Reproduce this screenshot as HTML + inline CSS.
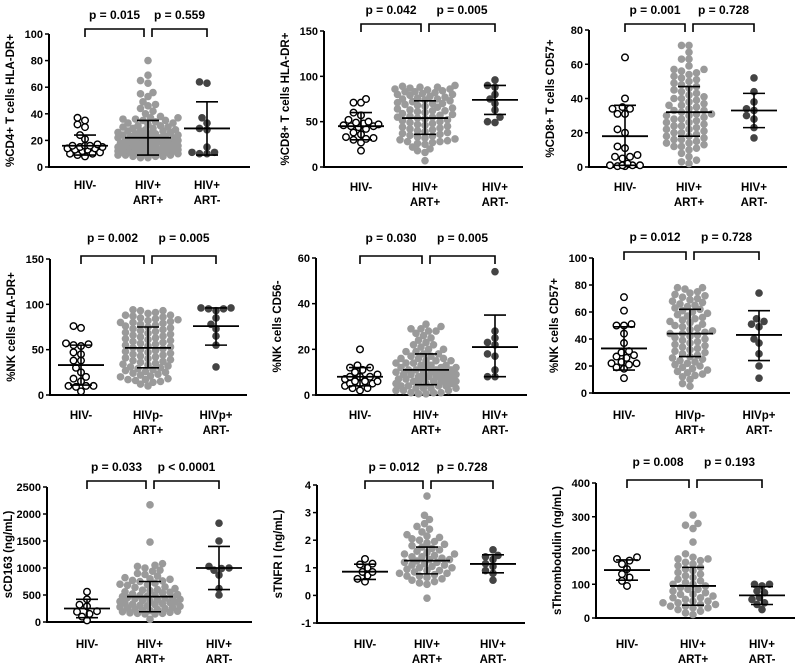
<!DOCTYPE html>
<html><head><meta charset="utf-8"><style>
html,body{margin:0;padding:0;background:#fff;}
svg{display:block;font-family:"Liberation Sans",Arial,sans-serif;}
</style></head><body>
<svg id="fig" width="795" height="664" viewBox="0 0 795 664"></svg>
<script>
// ---- data ----
const p1Neg=[37,35,32,30,24,21,17,16,16,16,15,15,14,14,13,13,12,11,10,10,9,8];
const p1Art=[80,69,65,63,56,55,53,49,47,46,44,42,40,38,37,37,36,36,35,35,34,33,33,32,31,31,30,30,29,29,28,28,27,27,27,26,26,25,25,25,24,24,24,23,23,23,22,22,22,21,21,21,20,20,20,20,19,19,19,18,18,18,18,17,17,17,16,16,16,16,15,15,15,15,14,14,14,14,13,13,13,13,12,12,12,12,11,11,11,11,10,10,10,10,9,9,9,8,8,8,7,7];
const p1Nart=[64,63,37,33,29,28,15,11,10,10,11];
const p2Neg=[75,71,71,60,57,52,50,49,48,47,46,45,45,44,42,38,36,33,32,31,30,27,18];
const p2Art=[90,89,88,88,87,86,86,85,84,83,83,82,81,80,80,79,78,77,76,75,75,74,73,72,71,70,70,69,68,67,66,65,64,63,62,62,61,60,59,58,57,56,55,55,54,53,52,51,50,49,48,47,46,45,44,43,42,41,40,39,38,37,36,35,34,33,32,31,30,29,28,28,27,26,25,22,20,18,16,7];
const p2Nart=[96,90,88,80,75,70,63,55,49,50];
const p3Neg=[64,40,35,34,34,31,31,22,20,12,11,7,6,6,5,2,1,1,1,1,0.5,0.5];
const p3Art=[71,71,67,63,63,59,57,57,56,55,54,53,52,51,50,49,48,47,46,45,44,43,42,41,40,40,39,38,37,36,36,35,34,33,33,32,31,31,30,30,29,28,28,27,26,26,25,24,24,23,22,22,21,20,20,19,18,18,17,16,16,15,14,14,13,12,12,11,10,8,6,4,3,2];
const p3Nart=[52,44,38,34,33,30,28,23,17];
const p4Neg=[76,74,57,56,55,54,47,45,38,38,30,25,20,18,15,10,10,10,9,4];
const p4Art=[94,93,93,91,90,88,88,87,86,85,84,83,82,81,80,80,79,78,77,76,75,74,73,72,71,70,69,68,67,66,65,64,63,62,61,60,59,58,57,56,55,54,53,52,51,50,49,48,47,46,45,44,43,42,41,40,39,38,37,36,35,34,33,32,31,30,29,28,27,26,25,24,23,22,21,20,18,17,17,16,15,14,12,10];
const p4Nart=[96,96,95,95,93,85,78,73,65,55,31];
const p5Neg=[20,13,12,12,11,10,9,8,8,8,7,6,6,6,5,5,5,4,3,3,2];
const p5Art=[31,30,29,29,28,28,27,26,25,24,23,22,22,21,20,20,19,19,18,18,17,17,16,16,16,15,15,15,14,14,14,13,13,13,12,12,12,12,11,11,11,11,10,10,10,10,9,9,9,9,8,8,8,8,7,7,7,7,6,6,6,6,5,5,5,5,4,4,4,4,3,3,3,3,2,2,2,1,1,1,0.5,0.5];
const p5Nart=[54,28,25,23,22,18,17,11,8,8];
const p6Neg=[71,61,51,50,50,44,37,31,30,28,27,26,23,22,22,21,19,18,11];
const p6Art=[78,78,77,75,74,73,72,71,70,69,68,67,66,65,64,63,62,61,60,59,58,57,56,55,54,53,52,51,50,49,48,47,46,45,44,44,43,42,41,40,39,38,37,36,35,34,33,32,31,30,29,28,27,26,25,24,23,22,21,20,19,18,17,16,15,14,13,12,10,7,5];
const p6Nart=[74,55,53,51,49,40,37,29,20,11];
const p7Neg=[560,420,320,290,200,190,150,100,30];
const p7Art=[2170,1480,1080,1050,1030,1000,960,940,900,880,850,820,800,790,770,760,750,720,700,690,680,650,640,620,600,590,580,560,550,540,520,510,500,490,480,470,460,450,440,430,420,410,400,390,380,370,360,350,340,330,320,310,300,290,280,270,260,250,240,230,220,210,200,190,180,170,160,160,150,150,50];
const p7Nart=[1830,1500,1030,1000,990,960,870,620,500];
const p8Neg=[1.32,1.15,1.12,1.0,0.85,0.85,0.72,0.6,0.5];
const p8Art=[3.6,2.9,2.75,2.6,2.5,2.4,2.3,2.2,2.15,2.1,2.05,2.0,1.95,1.9,1.85,1.8,1.75,1.7,1.65,1.6,1.55,1.5,1.5,1.45,1.4,1.4,1.35,1.3,1.3,1.25,1.2,1.2,1.15,1.1,1.1,1.05,1.0,1.0,0.95,0.9,0.9,0.85,0.8,0.8,0.75,0.7,0.7,0.65,0.6,0.55,0.5,0.45,0.4,-0.1];
const p8Nart=[1.65,1.45,1.4,1.3,1.15,1.05,0.9,0.8,0.55];
const p9Neg=[180,175,170,160,145,130,120,110,95];
const p9Art=[305,280,275,265,225,190,180,175,175,170,165,160,155,150,145,140,135,130,125,120,115,110,105,100,100,95,90,85,85,80,75,70,70,65,60,60,55,50,50,45,45,40,40,35,35,30,30,25,20,15,10];
const p9Nart=[100,100,95,80,75,60,55,45,40,25];
// mean / lower / upper SD bars per group [neg, art+, art-]
const meanVals=[[16,22,29],[45,54,74],[18,32,33],[33,52,76],[8,11,21],[33,44,43],[250,470,1000],[0.86,1.26,1.14],[142,95,67]];
const sdLow=[[9,9,9],[30,36,58],[1,18,23],[11,30,55],[4,4.5,8],[17,27,24],[80,190,600],[0.58,0.78,0.82],[112,38,40]];
const sdHigh=[[24,35,49],[60,73,90],[36,47,43],[55,75,96],[12,18,35],[49,62,61],[420,750,1400],[1.13,1.75,1.47],[172,150,93]];
const pLabels=[["p = 0.015","p = 0.559"],["p = 0.042","p = 0.005"],["p = 0.001","p = 0.728"],["p = 0.002","p = 0.005"],["p = 0.030","p = 0.005"],["p = 0.012","p = 0.728"],["p = 0.033","p < 0.0001"],["p = 0.012","p = 0.728"],["p = 0.008","p = 0.193"]];
const yTitles=["%CD4+ T cells  HLA-DR+","%CD8+ T cells HLA-DR+","%CD8+ T cells CD57+","%NK cells  HLA-DR+","%NK cells CD56-","%NK cells CD57+","sCD163 (ng/mL)","sTNFR I (ng/mL)","sThrombodulin (ng/mL)"];
const yTicks=[[0,20,40,60,80,100],[0,50,100,150],[0,20,40,60,80],[0,50,100,150],[0,20,40,60],[0,20,40,60,80,100],[0,500,1000,1500,2000,2500],[-1,0,1,2,3,4],[0,100,200,300,400]];
const catA=[["HIV-"],["HIV+","ART+"],["HIV+","ART-"]];
const catB=[["HIV-"],["HIVp-","ART+"],["HIVp+","ART-"]];
const cats=[catA,catA,catA,catB,catA,catB,catA,catA,catA];
const groups=[[p1Neg,p1Art,p1Nart],[p2Neg,p2Art,p2Nart],[p3Neg,p3Art,p3Nart],[p4Neg,p4Art,p4Nart],[p5Neg,p5Art,p5Nart],[p6Neg,p6Art,p6Nart],[p7Neg,p7Art,p7Nart],[p8Neg,p8Art,p8Nart],[p9Neg,p9Art,p9Nart]];
// ---- layout (pixels) ----
const L=[
 {ax:49,top:34,bot:167,end:250,gx:[85,148,207],pY:19,brY:29,cY:189},
 {ax:324,top:31,bot:167,end:523,gx:[361,425,495],pY:14,brY:24,cY:191},
 {ax:589,top:30,bot:167,end:787,gx:[625,689,754],pY:14,brY:24,cY:191},
 {ax:50,top:259,bot:395,end:247,gx:[81,148,216],pY:242,brY:256,cY:419},
 {ax:316,top:258,bot:395,end:527,gx:[360,426,495],pY:242,brY:256,cY:419},
 {ax:593,top:258,bot:393,end:790,gx:[624,690,759],pY:241,brY:252,cY:419},
 {ax:47,top:487,bot:622,end:252,gx:[87,150,219],pY:471,brY:481,cY:648},
 {ax:317,top:485,bot:623,end:525,gx:[365,427,493],pY:471,brY:481,cY:648},
 {ax:596,top:483,bot:618,end:795,gx:[627,693,762],pY:466,brY:480,cY:648}
];
const NS="http://www.w3.org/2000/svg";
const svg=document.getElementById('fig');
function mk(tag,attrs,parent){const e=document.createElementNS(NS,tag);for(const k in attrs)e.setAttribute(k,attrs[k]);(parent||svg).appendChild(e);return e;}
const R=3.8;
function swarm(vals,cx,yf,maxHalf){
  const sorted=vals.slice().sort((a,b)=>a-b);const placed=[];
  const md=2*R*0.8;
  for(const v of sorted){const y=yf(v);let best=null,bestD=-1;
    for(let k=0;;k++){const off=(k%2===0?1:-1)*Math.ceil(k/2)*2.5;
      if(Math.abs(off)>maxHalf)break;
      const x=cx+off;
      let d=Infinity;placed.forEach(p=>{const dd=Math.hypot(p.x-x,p.y-y);if(dd<d)d=dd;});
      if(d>=md){best=x;bestD=d;break;}
      if(d>bestD){bestD=d;best=x;}
    }
    placed.push({x:best,y});}
  return placed;
}
L.forEach((g,i)=>{
  const pg=mk('g',{});
  
  
  const ticks=yTicks[i];const mn=ticks[0],mx=ticks[ticks.length-1];
  const yf=v=>g.bot-(v-mn)/(mx-mn)*(g.bot-g.top);
  const ya=mk('line',{x1:g.ax,y1:g.top,x2:g.ax,y2:g.bot,stroke:'#000','stroke-width':2},pg);
  
  
  const xa=mk('line',{x1:g.ax-1,y1:g.bot,x2:g.end,y2:g.bot,stroke:'#000','stroke-width':2},pg);
  
  
  ticks.forEach(t=>{const y=yf(t);
    mk('line',{x1:g.ax-4,y1:y,x2:g.ax,y2:y,stroke:'#000','stroke-width':1.5},pg);
    const tl=mk('text',{x:g.ax-6,y:y+4,'text-anchor':'end','font-size':11,'font-weight':'bold'},pg);
    tl.textContent=t;
    
    
  });
  const cy=(g.top+g.bot)/2;
  const tt=mk('text',{x:0,y:0,transform:`translate(${g.ax-35},${cy}) rotate(-90)`,'text-anchor':'middle','font-size':11.5,'font-weight':'bold'},pg);
  tt.textContent=yTitles[i];
  
  
  const fills=['#fff','#9a9a9a','#444'];
  const halfW=[18,32,18];
  groups[i].forEach((vals,j)=>{
    swarm(vals,g.gx[j],yf,halfW[j]).forEach(p=>{
      const c=mk('circle',{cx:p.x,cy:p.y,r:j===0?3.3:R,fill:fills[j],stroke:j===0?'#000':'none','stroke-width':1.4},pg);
      
      
    });
  });
  [0,1,2].forEach(j=>{const x=g.gx[j];
    const m=mk('line',{x1:x-23,y1:yf(meanVals[i][j]),x2:x+23,y2:yf(meanVals[i][j]),stroke:'#000','stroke-width':1.8},pg);
    
    
    const s=mk('path',{d:`M${x},${yf(sdLow[i][j])}V${yf(sdHigh[i][j])}M${x-11},${yf(sdLow[i][j])}H${x+11}M${x-11},${yf(sdHigh[i][j])}H${x+11}`,stroke:'#000','stroke-width':1.6,fill:'none'},pg);
    
    
  });
  [[g.gx[0],g.gx[1]-4],[g.gx[1]+4,g.gx[2]]].forEach((b,k)=>{
    const br=mk('path',{d:`M${b[0]},${g.brY+8}V${g.brY}H${b[1]}V${g.brY+8}`,stroke:'#000','stroke-width':1.6,fill:'none'},pg);
    
    
    const pt=mk('text',{x:(b[0]+b[1])/2,y:g.pY,'text-anchor':'middle','font-size':12,'font-weight':'bold'},pg);
    pt.textContent=pLabels[i][k];
    
    
  });
  cats[i].forEach((lines,j)=>{lines.forEach((s,n)=>{
    const ct=mk('text',{x:g.gx[j],y:g.cY+n*15,'text-anchor':'middle','font-size':11.5,'font-weight':'bold'},pg);
    ct.textContent=s;
    
    
  });});
});
</script>
</body></html>
